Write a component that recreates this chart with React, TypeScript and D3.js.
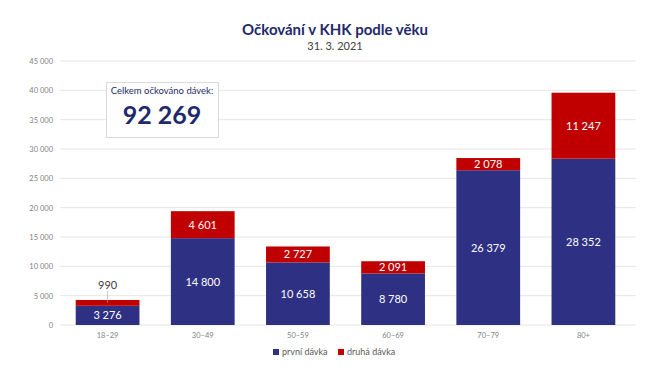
import React from "react";
import * as d3 from "d3";

const categories = ["18–29", "30–49", "50–59", "60–69", "70–79", "80+"];
const firstDose = [3276, 14800, 10658, 8780, 26379, 28352];
const secondDose = [990, 4601, 2727, 2091, 2078, 11247];
const yTicks = [0, 5000, 10000, 15000, 20000, 25000, 30000, 35000, 40000, 45000];
const seriesNames = ["první dávka", "druhá dávka"];
const totalLabel = "Celkem očkováno dávek:";
const totalValue = 92269;

const W = 670, H = 376;
const BLUE = "#2e3083";
const RED = "#c00000";
const FONT = "Lato, 'Open Sans', sans-serif";

const fmt = (v: number) => d3.format(",")(v).replace(/,/g, " ");

export default function App() {
  const x = d3.scaleBand<string>().domain(categories).range([60, 631]).paddingInner(0.33).paddingOuter(0.165);
  const y = d3.scaleLinear().domain([0, 45000]).range([325, 61]);
  const bw = x.bandwidth();

  return (
    <svg width={W} height={H} style={{ position: "absolute", left: 0, top: 0, fontFamily: FONT }}>
      <rect width={W} height={H} fill="#fff" />
      <text x={335} y={35} textAnchor="middle" fontSize={15} fontWeight={700} fill="#1f2a6b">Očkování v KHK podle věku</text>
      <text x={335} y={50} textAnchor="middle" fontSize={11} fill="#404040">31. 3. 2021</text>
      {yTicks.map((t) => (
        <g key={t}>
          <line x1={60} x2={636} y1={y(t)} y2={y(t)} stroke="#e6e6e6" strokeWidth={1} />
          <text x={53} y={y(t) + 3} textAnchor="end" fontSize={7.5} fill="#7f7f7f">{fmt(t)}</text>
        </g>
      ))}
      {categories.map((c, i) => {
        const x0 = x(c)!;
        const y1 = y(firstDose[i]);
        const y2 = y(firstDose[i] + secondDose[i]);
        const small = y1 - y2 < 10;
        return (
          <g key={c}>
            <rect x={x0} y={y1} width={bw} height={y(0) - y1} fill={BLUE} />
            <rect x={x0} y={y2} width={bw} height={y1 - y2} fill={RED} />
            <text x={x0 + bw / 2} y={(y1 + y(0)) / 2 + 4} textAnchor="middle" fontSize={11} fill="#fff">{fmt(firstDose[i])}</text>
            {small ? (
              <g>
                <line x1={x0 + bw / 2} x2={x0 + bw / 2} y1={y2 - 9} y2={(y1 + y2) / 2} stroke="#a6a6a6" strokeWidth={0.6} />
                <text x={x0 + bw / 2} y={y2 - 11} textAnchor="middle" fontSize={11} fill="#404040">{fmt(secondDose[i])}</text>
              </g>
            ) : (
              <text x={x0 + bw / 2} y={(y1 + y2) / 2 + 4} textAnchor="middle" fontSize={11} fill="#fff">{fmt(secondDose[i])}</text>
            )}
            <text x={x0 + bw / 2} y={338} textAnchor="middle" fontSize={7.5} fill="#7f7f7f">{c}</text>
          </g>
        );
      })}
      <rect x={106.5} y={82.5} width={112} height={55} fill="#fff" stroke="#d9d9d9" strokeWidth={1} />
      <text x={162} y={94} textAnchor="middle" fontSize={9.5} fill="#1f2a6b">{totalLabel}</text>
      <text x={162} y={124} textAnchor="middle" fontSize={25} fontWeight={700} fill="#1f2a6b">{fmt(totalValue)}</text>
      <g>
        <rect x={273} y={349} width={6} height={6} fill={BLUE} />
        <text x={282} y={355} fontSize={9} fill="#595959">{seriesNames[0]}</text>
        <rect x={338} y={349} width={6} height={6} fill={RED} />
        <text x={347} y={355} fontSize={9} fill="#595959">{seriesNames[1]}</text>
      </g>
    </svg>
  );
}
